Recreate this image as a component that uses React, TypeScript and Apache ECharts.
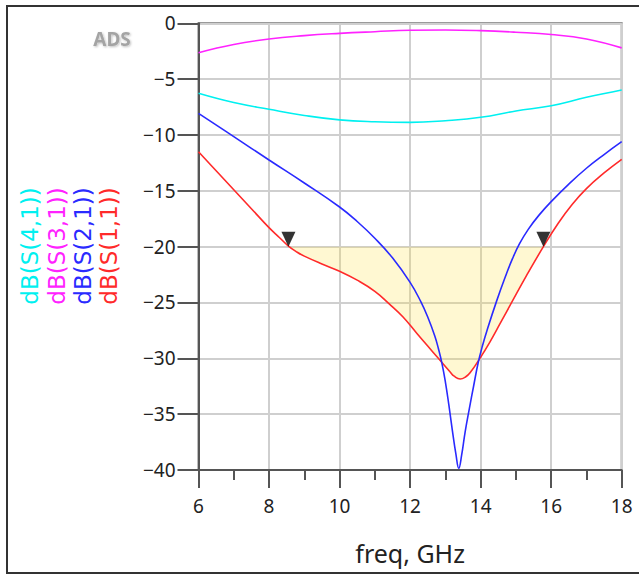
import React, { useEffect, useRef } from "react";
import * as echarts from "echarts";

// frequency grid (GHz) for the slowly varying curves
const freqCoarse = [6, 7, 8, 9, 10, 11, 12, 13, 14, 15, 16, 17, 18];
// dB(S(3,1)) magenta
const s31 = [-2.63, -1.9, -1.4, -1.1, -0.9, -0.75, -0.62, -0.6, -0.66, -0.8, -1.0, -1.4, -2.2];
// dB(S(4,1)) cyan
const s41 = [-6.27, -7.1, -7.7, -8.25, -8.65, -8.82, -8.87, -8.72, -8.42, -7.85, -7.38, -6.63, -5.97];

// dB(S(2,1)) blue
const s21Freq = [6, 7, 8, 9, 10, 10.5, 11, 11.5, 12, 12.3, 12.5, 12.7, 12.8, 12.9, 13.0, 13.1, 13.2, 13.3, 13.38, 13.46, 13.56, 13.68, 13.8, 13.93, 14.05, 14.2, 14.45, 14.7, 14.9, 15.1, 15.35, 15.65, 16, 16.5, 17, 17.5, 18];
const s21 = [-8.06, -10.15, -12.24, -14.3, -16.45, -17.75, -19.25, -21.0, -23.2, -24.9, -26.3, -28.0, -29.1, -30.4, -32.1, -34.2, -36.5, -38.6, -39.85, -38.7, -36.6, -34.5, -32.5, -30.4, -28.9, -27.3, -24.9, -22.7, -21.1, -19.75, -18.45, -17.2, -15.97, -14.4, -12.98, -11.75, -10.6];

// dB(S(1,1)) red
const s11Freq = [6, 6.5, 7, 7.5, 8, 8.3, 8.55, 8.8, 9, 9.5, 10, 10.5, 11, 11.4, 11.8, 12.2, 12.5, 12.8, 13.13, 13.25, 13.42, 13.58, 13.7, 13.98, 14.27, 14.55, 14.88, 15.3, 15.78, 16.2, 16.6, 17, 17.5, 18];
const s11 = [-11.5, -13.2, -14.9, -16.6, -18.3, -19.2, -19.95, -20.5, -20.85, -21.55, -22.2, -23.0, -24.0, -25.1, -26.3, -27.8, -28.9, -30.0, -31.2, -31.6, -31.85, -31.65, -31.3, -30.0, -28.5, -26.9, -25.0, -22.6, -20.0, -17.9, -16.2, -14.8, -13.4, -12.18];

// markers at the -20 dB crossings
const markerFreq = [8.55, 15.78];
const markerLevel = -20;

const legendNames = ["dB(S(4,1))", "dB(S(3,1))", "dB(S(2,1))", "dB(S(1,1))"];
const legendColors = ["#00f0f0", "#ff22ff", "#2a2aff", "#ff2a2a"];

const FONT = "'Noto Sans', 'Open Sans', sans-serif";

export default function App() {
  const ref = useRef<HTMLDivElement>(null);
  useEffect(() => {
    if (!ref.current) return;
    const chart = echarts.init(ref.current, null, { renderer: "svg" });
    const pairs = (xs: number[], ys: number[]) => xs.map((x, i) => [x, ys[i]]);
    const fillData = pairs(s11Freq, s11).filter(
      (p) => p[0] >= markerFreq[0] && p[0] <= markerFreq[1]
    );
    const minusFmt = (v: number) => (v < 0 ? "\u2212" + Math.abs(v) : String(v));

    const legendX = [30, 57, 83, 109];
    const graphics: any[] = [
      {
        type: "rect",
        shape: { x: 7, y: 6, width: 640, height: 567 },
        style: { fill: "none", stroke: "#333", lineWidth: 2 },
        silent: true,
      },
      {
        type: "text",
        x: 112,
        y: 39,
        style: {
          text: "ADS",
          fontFamily: FONT,
          fontSize: 19,
          fontWeight: "bold",
          fill: "#a4a4a4",
          align: "center",
          verticalAlign: "middle",
          textShadowColor: "rgba(0,0,0,0.25)",
          textShadowBlur: 2,
          textShadowOffsetX: 1,
          textShadowOffsetY: 1,
        },
      },
    ];
    legendNames.forEach((name, i) => {
      graphics.push({
        type: "text",
        x: legendX[i],
        y: 246,
        rotation: Math.PI / 2,
        style: {
          text: name,
          fontFamily: "'DejaVu Sans', sans-serif",
          fontSize: 23,
          fill: legendColors[i],
          align: "center",
          verticalAlign: "middle",
        },
      });
    });

    const lineCommon = {
      type: "line",
      smooth: 0.45,
      symbol: "none",
    };

    chart.setOption({
      animation: false,
      backgroundColor: "#fff",
      grid: {
        left: 198.5,
        right: 17.3,
        top: 23.3,
        bottom: 106,
        show: true,
        borderColor: "#7a7a7a",
        borderWidth: 2,
      },
      xAxis: {
        type: "value",
        min: 6,
        max: 18,
        interval: 2,
        name: "freq, GHz",
        nameLocation: "middle",
        nameGap: 70,
        nameTextStyle: { fontFamily: FONT, fontSize: 25, color: "#222" },
        axisLine: { show: true, onZero: false, lineStyle: { color: "#555", width: 2 } },
        axisTick: { show: true, inside: false, length: 18, lineStyle: { color: "#555", width: 2 } },
        minorTick: { show: true, splitNumber: 2, length: 10, lineStyle: { color: "#555", width: 2 } },
        axisLabel: { fontFamily: FONT, fontSize: 19, color: "#222", margin: 26 },
        splitLine: { show: true, lineStyle: { color: "#cfcfcf", width: 2 } },
      },
      yAxis: {
        type: "value",
        min: -40,
        max: 0,
        interval: 5,
        axisLine: { show: true, onZero: false, lineStyle: { color: "#555", width: 2 } },
        axisTick: { show: true, inside: false, length: 21, lineStyle: { color: "#555", width: 2 } },
        axisLabel: { fontFamily: FONT, fontSize: 19, color: "#222", margin: 23, formatter: minusFmt },
        splitLine: { show: true, lineStyle: { color: "#cfcfcf", width: 2 } },
      },
      graphic: graphics,
      series: [
        {
          ...lineCommon,
          name: "fill",
          data: fillData,
          lineStyle: { width: 0, opacity: 0 },
          areaStyle: { origin: markerLevel, color: "rgba(255,228,70,0.35)" },
          z: 1,
          silent: true,
        },
        {
          ...lineCommon,
          name: legendNames[1],
          data: pairs(freqCoarse, s31),
          lineStyle: { color: legendColors[1], width: 1.6 },
          z: 3,
        },
        {
          ...lineCommon,
          name: legendNames[0],
          data: pairs(freqCoarse, s41),
          lineStyle: { color: legendColors[0], width: 1.6 },
          z: 3,
        },
        {
          ...lineCommon,
          name: legendNames[3],
          data: pairs(s11Freq, s11),
          lineStyle: { color: legendColors[3], width: 1.6 },
          z: 3,
        },
        {
          ...lineCommon,
          name: legendNames[2],
          data: pairs(s21Freq, s21),
          lineStyle: { color: legendColors[2], width: 1.6 },
          z: 4,
        },
        {
          type: "scatter",
          name: "markers",
          data: markerFreq.map((f) => [f, markerLevel]),
          symbol: "triangle",
          symbolSize: [14, 15],
          symbolRotate: 180,
          symbolOffset: [0, -7.5],
          itemStyle: { color: "#000" },
          z: 6,
        },
      ],
    });
    return () => chart.dispose();
  }, []);
  return (
    <div
      ref={ref}
      style={{ position: "fixed", left: 0, top: 0, width: 639, height: 576 }}
    />
  );
}
